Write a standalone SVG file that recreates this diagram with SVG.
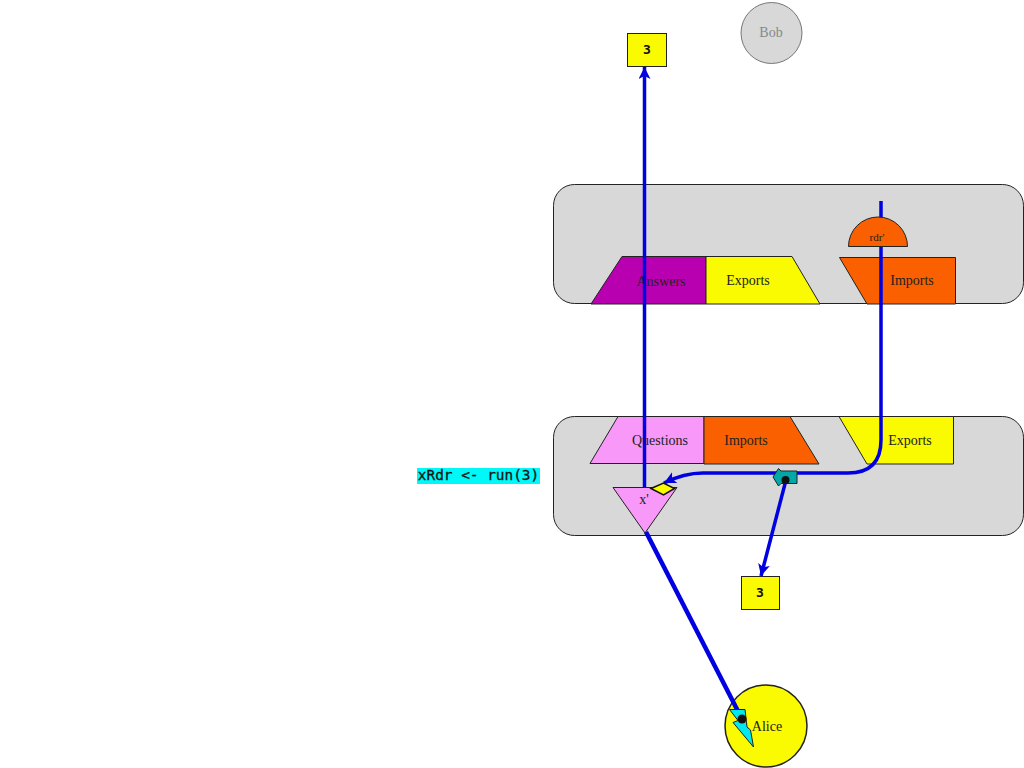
<svg xmlns="http://www.w3.org/2000/svg" width="1024" height="768" viewBox="0 0 1024 768">
<defs>
<marker id="arr" markerUnits="userSpaceOnUse" markerWidth="14" markerHeight="14" refX="12" refY="6" orient="auto"><path d="M0 0L12 6L0 12L3 6Z" fill="#0000e0"/></marker>
</defs>
<style>
.s{stroke:#222;stroke-width:1}
.t{font-family:"Liberation Serif",serif;font-size:14px;fill:#222;text-anchor:middle}
.m{font-family:"DejaVu Sans Mono","Liberation Mono",monospace;font-size:13px;font-weight:bold;fill:#111;text-anchor:middle}
.c{fill:none;stroke:#0000e0;stroke-width:3.500}
</style>
<rect width="1024" height="768" fill="#fff"/>
<g id="box-top"><rect class="s" x="553.500" y="184.500" width="470" height="119" rx="21" fill="#d8d8d8"/></g>
<g id="box-bottom"><rect class="s" x="553.500" y="416.500" width="470" height="119" rx="21" fill="#d8d8d8"/></g>
<g id="answers"><path class="s" d="M622 256.500H706V304H591Z" fill="#b800b0"/><text class="t" x="661" y="286">Answers</text></g>
<g id="exports-top"><path class="s" d="M706 256.500H792L820 304H706Z" fill="#fafa00"/><text class="t" x="748" y="285">Exports</text></g>
<g id="imports-top"><path class="s" d="M839.500 257.500H955.500V304H867Z" fill="#fa6000"/><text class="t" x="912" y="285">Imports</text></g>
<g id="questions"><path class="s" d="M618 416.500H704V463.500H590Z" fill="#f898f8"/><text class="t" x="660" y="445">Questions</text></g>
<g id="imports-bottom"><path class="s" d="M704 416.500H790L819 464H704Z" fill="#fa6000"/><text class="t" x="746" y="445">Imports</text></g>
<g id="exports-bottom"><path class="s" d="M839 416.500H953.500V464H867Z" fill="#fafa00"/><text class="t" x="910" y="445">Exports</text></g>
<g id="xprime"><path class="s" d="M613 487.500H677L645 533Z" fill="#f898f8"/><text class="t" x="644" y="504">x'</text></g>
<g id="val-top"><rect class="s" x="627.500" y="33.500" width="39" height="33" fill="#fafa00"/><text class="m" x="647" y="54">3</text></g>
<g id="val-bottom"><rect class="s" x="741.500" y="576.500" width="38" height="33" fill="#fafa00"/><text class="m" x="760" y="597">3</text></g>
<g id="bob"><circle cx="771.500" cy="33" r="30.500" fill="#d8d8d8" stroke="#777"/><text class="t" x="771" y="37" style="fill:#888">Bob</text></g>
<g id="alice"><circle cx="766" cy="726" r="41" fill="#fafa00" stroke="#222" stroke-width="1.500"/><text class="t" x="767" y="731">Alice</text></g>
<g id="code"><rect x="417" y="468" width="123" height="16" fill="#00f8f8"/><text class="m" x="478.500" y="480" style="font-size:14.400px;font-weight:normal;stroke:#111;stroke-width:.3">xRdr &lt;- run(3)</text></g>
<g id="connectors">
<path class="c" d="M644.500 487V67" marker-end="url(#arr)"/>
<path class="c" d="M881 201V440Q881 473 848 473H703C690 473 678 476 664 483" marker-end="url(#arr)"/>
<path class="c" d="M786 480L761 576" marker-end="url(#arr)"/>
<path class="c" d="M646 532L742 719" style="stroke-width:4.500"/>
</g>
<g id="rdr"><path class="s" d="M848.500 246.500A29.500 29.500 0 0 1 907.500 246.500Z" fill="#fa6000"/><text class="t" x="877" y="241" style="font-size:11px">rdr'</text></g>
<g id="marks">
<path d="M651 488.500L663.500 483L674.500 488.500L663.500 495Z" fill="#fafa00" stroke="#111" stroke-width="1.500"/>
<path class="s" d="M773 477L778.500 468.500L781 471H797V483.500H781L778.500 486Z" fill="#00a8a8"/>
<circle cx="785.500" cy="480" r="4" fill="#111"/>
<path d="M729.500 709.500H745L747 727L750.500 730L753.500 747L733 722.500L738 720.500Z" fill="#00e8f0" stroke="#222" stroke-width="1"/>
<circle cx="742" cy="719" r="4.500" fill="#111"/>
</g>
</svg>
